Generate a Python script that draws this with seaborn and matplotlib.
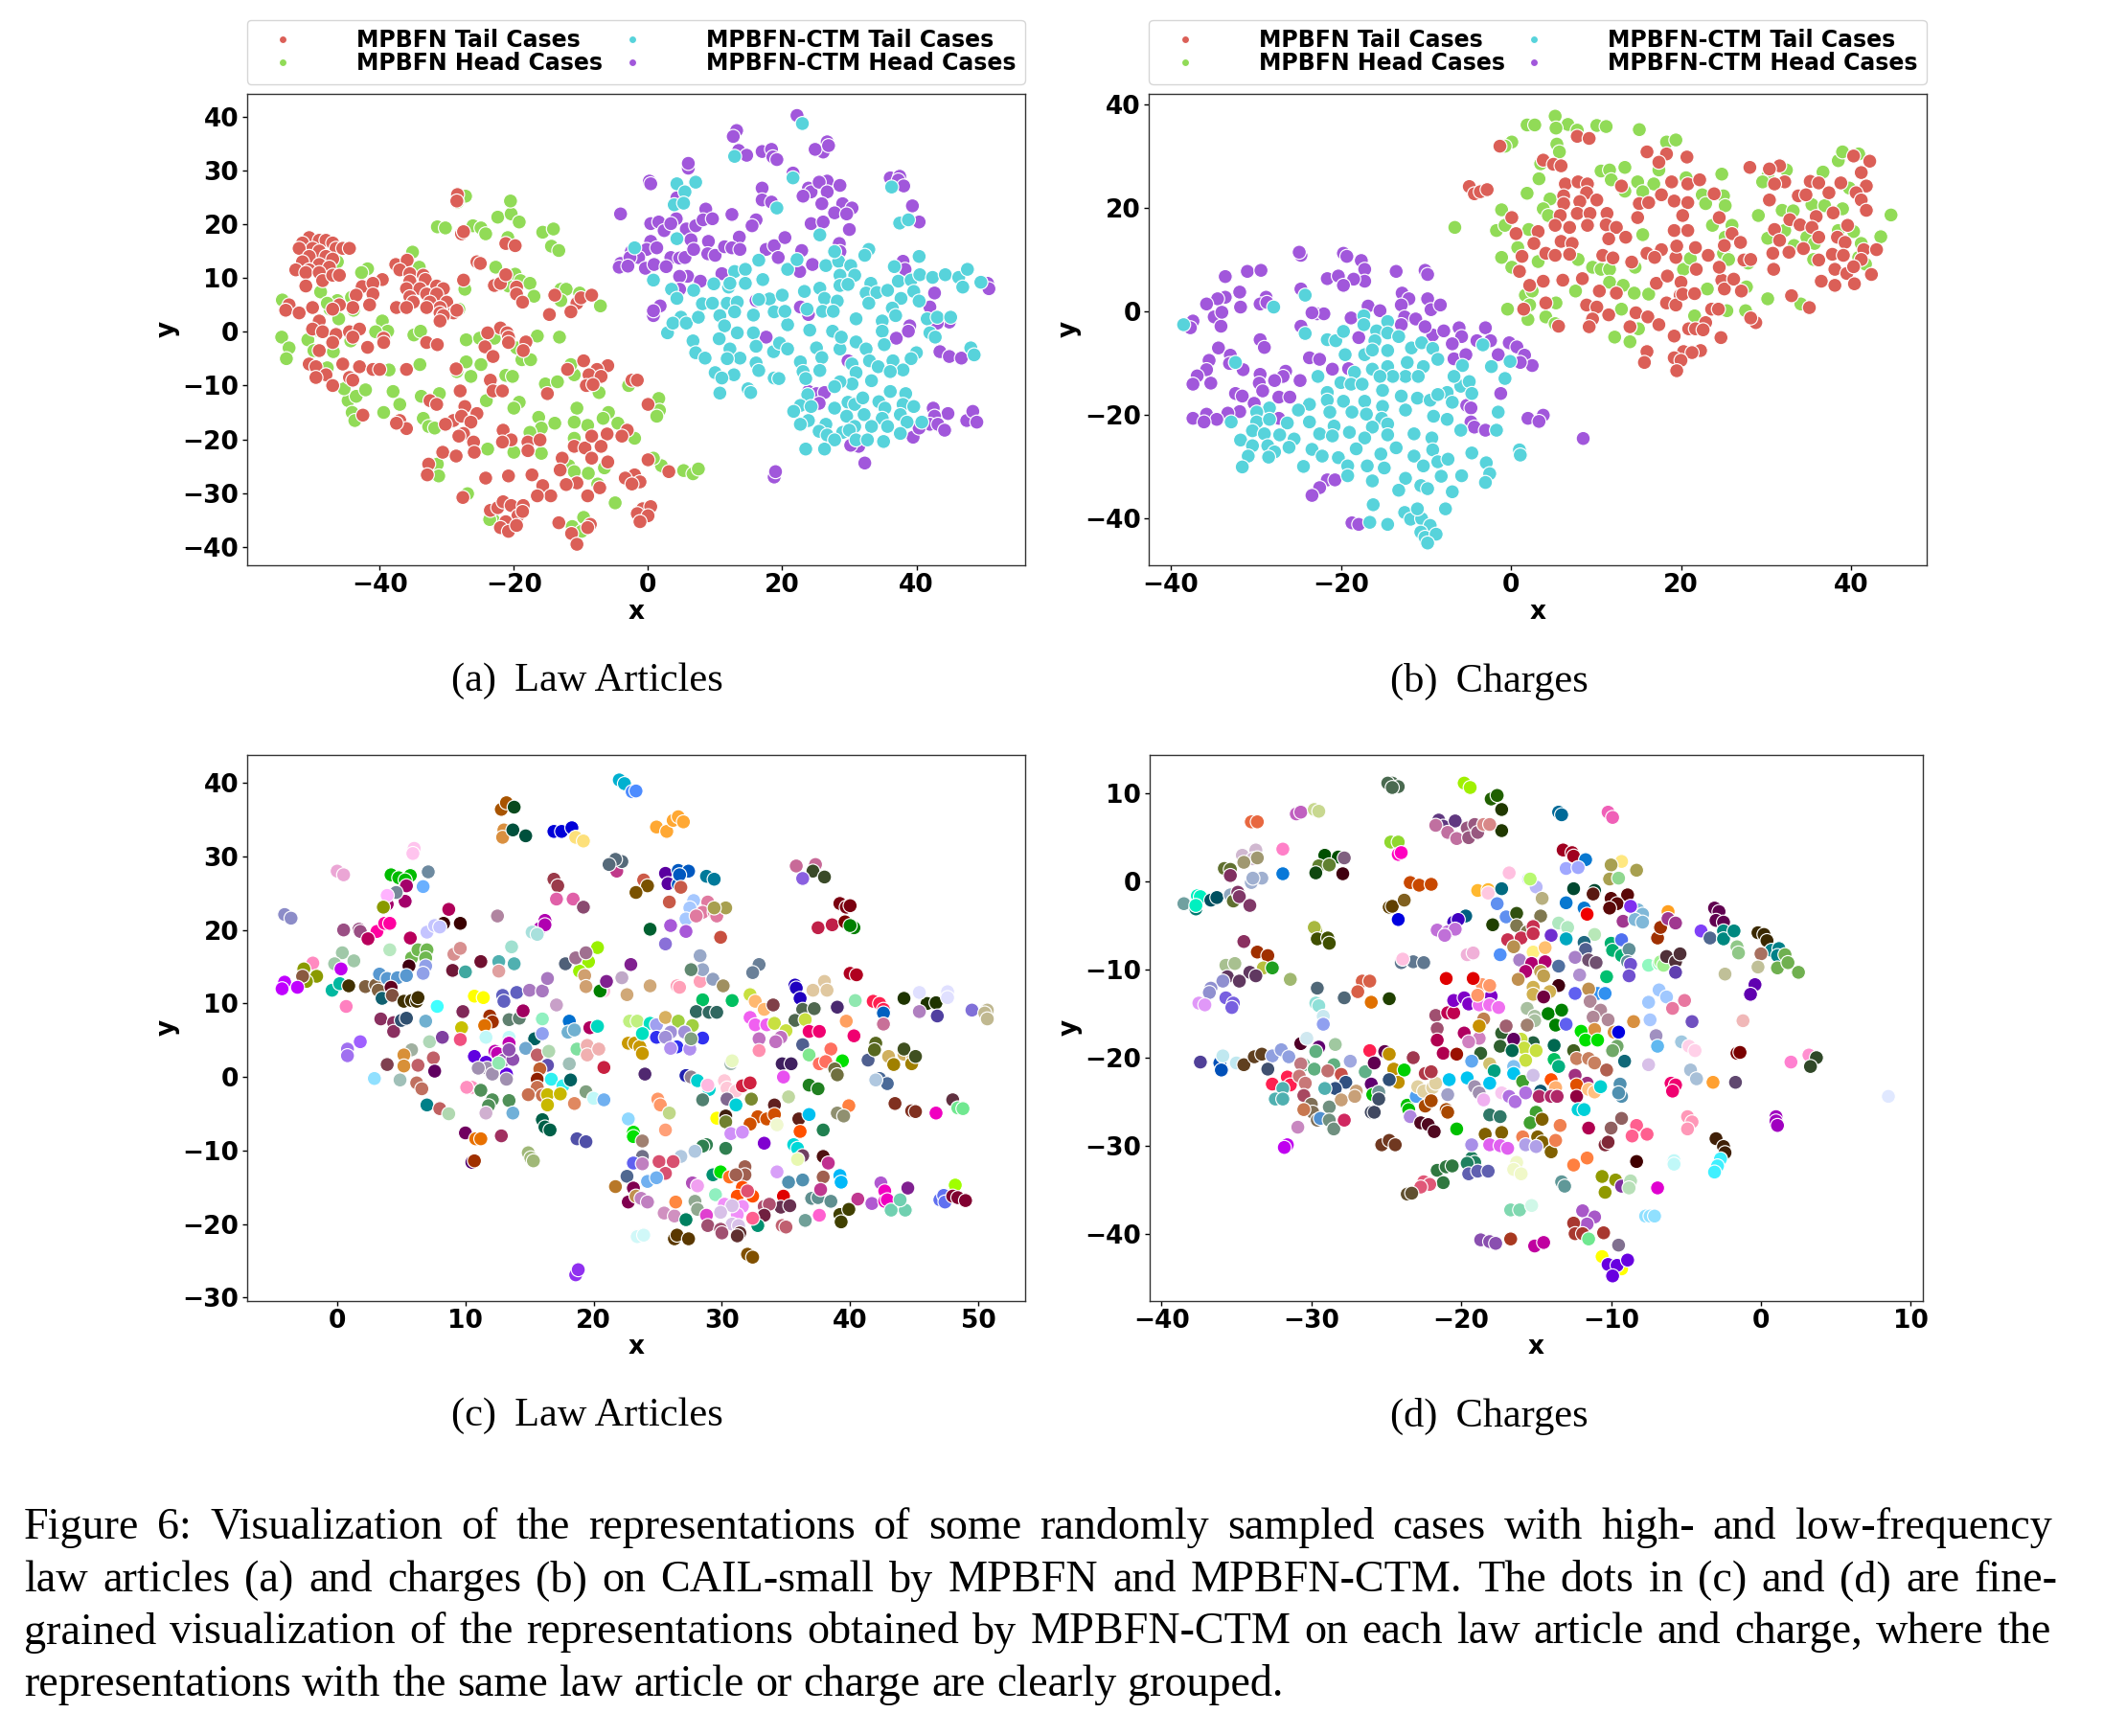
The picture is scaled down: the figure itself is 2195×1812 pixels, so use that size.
import numpy as np
import pandas as pd
import matplotlib
matplotlib.use("Agg")
import matplotlib.pyplot as plt
import seaborn as sns

sns.set_style("white")
plt.rcParams['font.family'] = ['DejaVu Sans']
plt.rcParams.update({"text.color": "black", "axes.labelcolor": "black",
                     "xtick.color": "black", "ytick.color": "black"})

LABELS = ["MPBFN Tail Cases", "MPBFN Head Cases", "MPBFN-CTM Tail Cases", "MPBFN-CTM Head Cases"]

a_tail = [(-50.5,17.5),(-51.5,16.5),(-49,17),(-48,17),(-47,16.5),(-50,15.5),(-52,15.5),(-49,15),(-46.5,15.5),(-45.5,15.5),(-44.5,15.5),(-50.5,14),(-48,14),(-47,13.5),(-51.5,13),(-49,12.5),(-47.5,12),(-50.5,11.5),(-52.5,11.5),(-51,11),(-49,11),(-48.5,9.5),(-47,10.5),(-46,10.5),(-51,8.5),
(-37.6,12.5),(-35.9,13.3),(-37,11.5),(-35.5,10.8),(-33.5,10.5),(-33.2,9.7),(-35.5,9.4),(-39.6,9.7),(-42.6,8.4),(-41,9),(-43.5,6.8),(-36,8),(-34,8),(-31.5,8.5),(-30.5,8),(-33,7),(-31.5,7),(-35.5,6.5),(-35,5.5),(-32.5,5.5),(-30,5.5),(-31,4.5),(-37.5,4.5),(-36,4.5),(-33,4.5),(-31,3.5),(-29,3.5),(-30.5,3),(-28.5,4),(-31,2),(-41,7),(-41.5,5),(-44,4.5),(-46,5),(-47,4.2),
(-50,4.5),(-53.5,5),(-54,4),(-52,3.5),(-49,2),(-50,0.5),(-48.5,0),(-46.5,-0.5),(-44.5,0),(-43,0.5),(-44,-1),(-47,-2),(-49,-3.5),(-50.5,-6),(-49.5,-6.5),(-48,-8),(-45.5,-6),(-43,-6.5),(-44.5,-8.5),(-41,-7),(-40,-7),(-36,-7),(-49.5,-8.5),(-47,-10),(-44,-9),(-42.5,-15.5),(-37,-16.5),(-36,-18),(-37.5,-17),(-33,-2),(-31.4,-2.4),(-39.4,-1.2),(-39.4,-2),(-41.8,-2.9),
(-28.4,25.5),(-28.5,24.3),(-27.8,18.2),(-27.5,18.6),(-21.2,16.4),(-19.8,16),(-25.5,13),(-25,12.7),(-27.5,9.6),(-22.9,8.6),(-22,9),(-21.2,10.6),(-19.6,8.3),(-19.6,7),(-18.7,5.5),(-13.9,6.8),(-10.6,5.3),(-10,6.3),(-8.4,6.8),(-14.7,3.2),(-11.5,3.7),
(-22,0.7),(-23.9,-0.2),(-21,-0.2),(-20.8,-1),(-24.3,-2.8),(-20.8,-2),(-18.2,-1.9),(-18.6,-3.5),(-23.1,-4.6),(-28.6,-6.9),(-23.5,-9),(-28,-11),(-23.1,-11),(-21.7,-11),(-15,-11.5),(-32.5,-12.8),(-31.5,-13.5),(-36,-7),
(-9.6,-5.4),(-6,-6.3),(-7.6,-7),(-12,-7),(-8.8,-8),(-7,-8.3),(-9.2,-10),(-8.2,-9.8),(-2.4,-9),(-1.6,-9),(0,-13.5),
(-27.3,-13.9),(-29,-16.5),(-30.2,-17.2),(-27.8,-15.7),(-25.5,-15.2),(-26.4,-16.8),(-27.5,-18.9),(-28.2,-19.4),(-26,-20.5),(-30.6,-22.4),(-28.6,-23.1),(-25.9,-22.4),(-32.7,-24.6),(-32.9,-26.6),(-21.6,-18.3),(-20.4,-20.1),(-21.7,-20.5),(-17.9,-20.5),(-17.9,-22.1),(-16.1,-20.1),(-11,-21.3),(-9.4,-21.6),(-8.4,-19.4),(-6.1,-19),(-7,-21.3),(-3.1,-18.3),(-3.9,-19.4),(-8.4,-23.5),(-12.8,-23.5),(-13.1,-25.7),(0,-23.8),(3.1,-26),(-6,-24.2),(-2,-26.6),(-3.4,-27.2),(-1.2,-27.9),(-2.4,-28.3),(-10.6,-28.1),(-12.2,-28.4),(-15.7,-28.6),(-14.5,-30.5),(-16.5,-30.5),(-9,-30.5),(-7.2,-29),(-17.3,-26.6),(-20.8,-26.8),(-24.2,-27.2),(-27.6,-30.8),
(-23.5,-33.2),(-22.4,-32.7),(-21.6,-31.6),(-20.4,-32.3),(-18.6,-32.3),(-19.4,-34.2),(-18.7,-33.4),(-21.2,-35.3),(-22,-36.4),(-20.8,-37.1),(-19.6,-36),
(-0.8,-32.9),(0.4,-32.5),(-1.6,-33.8),(0,-34.2),(-1.2,-35.3),(-13.3,-35.5),(-8.6,-35.8),(-9,-36.4),(-11.4,-37.5),(-10.6,-39.5)]

a_head = [(-54.5,5.9),(-54.6,-1),(-53.5,-3),(-53.9,-5),(-50.7,-1.5),(-49.4,0.3),(-49.8,-3.5),(-48.8,12.5),(-47.3,11.4),(-46.3,13),(-48.8,7.4),(-46.3,5.8),(-44.2,6.4),(-47.4,4.2),(-43.9,4),(-46.1,2.4),(-47.8,5.3),(-44.3,-1.7),(-46.9,-3.7),(-47.8,-6.7),(-44.7,-12.8),(-43.5,-12),(-42.1,-10.8),(-45.3,-10.6),(-44.1,-15),(-43.7,-16.5),(-41.8,11.7),(-42.7,11),(-39.6,2),(-38.8,0.1),(-40.6,0),(-38.6,-7.1),(-38,-11.1),(-37,-13.5),(-39.4,-15),(-34.9,-0.6),(-33.9,0.1),(-34,-6.1),(-33.8,-12),(-31.1,-11.5),(-33.5,-16.1),(-32.7,-17.6),(-31.8,-17.9),(-31.4,-24.6),(-31.2,-26.8),(-35.1,14.8),(-34.1,12),(-31.4,19.5),(-30.2,19.3),(-26.1,19.7),(-24.9,19.3),(-24.2,18.2),(-22.4,21.3),(-20.4,21.9),(-19.2,20.4),(-20.5,24.3),(-27.2,25.2),(-28.4,24.1),(-15.7,18.5),(-14.1,19.1),(-14.4,15.9),(-13.3,15.1),(-20.9,17.5),(-22.7,12),(-19.8,10.7),(-19,9.5),(-17.6,9),(-20.8,8.5),(-27.3,7.9),(-28.2,4.2),(-17,6.6),(-13,7.9),(-12.2,7.9),(-13,5.8),(-10.2,7.2),(-7.1,4.8),
(-27.1,-1.5),(-25.1,-1.2),(-22.9,-1.2),(-19.6,-3),(-16.5,-0.8),(-13.2,-1),(-18.8,-5.2),(-17.5,-5.2),(-27.1,-5.6),(-24.9,-6.1),(-28.5,-7.4),(-26.4,-8.3),(-21.2,-8.1),(-20.2,-8.3),(-15.3,-9.7),(-13.5,-9.3),(-11,-8),(-11.5,-6.1),(-7.3,-11.3),(-2.9,-10),(-24.1,-12.8),(-19.2,-13.1),(-20,-14.2),(-10.6,-14.2),(-16.3,-15.9),(1.6,-12.4),(1.7,-14.6),(1.3,-15.7),(-5.9,-15),(-6.7,-16.1),(-4.5,-17),(-9,-17.4),(-11,-16.8),(-13.9,-17),(-15.9,-17.9),(-17.6,-18.7),(-11,-19.8),(-2,-19.8),(-20,-22.4),(-15.9,-22.6),(-23.9,-21.8),(-11.8,-24.9),(-11,-26),(-8.9,-26.3),(-6.5,-25.3),(2,-24.9),(5.3,-25.8),(6.7,-26.4),(7.5,-25.5),(0.8,-23.5),(-7.5,-28.3),(-4.9,-31.8),(-26.9,-30.1),(-23.1,-34.9),(-23.6,-34.9),(-9.6,-34.5),(-11.3,-36.2),(-9.9,-37.1)]

a_ctm_head = [(-4.1,21.9),(0.2,28),(0.4,27.5),(6,30.4),(6,31.3),(13.2,37.4),(12.7,36.3),(13.5,33.7),(14.7,32.8),(17,33.5),(18.4,33.9),(18.6,32.5),(19.2,32),(22.2,40.2),(26.7,35.3),(26.1,33.4),(24.9,33.9),(26.9,34.6),(21.6,29.5),(17,26.7),(23.9,26.7),(24.3,26),(26.7,28),(25.5,27.8),(28.6,27.2),(26.7,26),(23.1,25.2),(25.9,23.8),(29,23.8),(30.4,23),(27.8,22.1),(29.6,21.9),(24.3,20.1),(26.1,20.4),(30,19),(36.1,28.6),(37.5,28.9),(37.3,28.2),(38.1,27.1),(39.4,23.4),(40.4,20.4),(28.5,16.4),(28.6,14.9),(17,24.5),(18.4,24.1),(8.6,22.8),(12.5,21.8),(16.1,20.8),(15.5,19.7),(4.3,24.9),(4.2,21),(0.4,20.1),(1.6,20.4),(2.4,18.8),(3.4,20.1),(5.7,19.1),(7.1,19.7),(8.2,20.8),(9.6,21),(0.4,16.8),(-0.2,15.3),(1.3,15.6),(-2.5,14.9),(-1.4,13.8),(-4.1,12.7),(-2.7,13.8),(-4.3,12),(-3,12.2),(-0.4,11.8),(0.9,12.5),(3.4,13.8),(2.7,12.1),(4.7,13.7),(5.5,13.8),(6.4,17.1),(6.8,15.3),(9,16.8),(13.6,17.6),(8.9,14.5),(10,14.2),(11.4,15.8),(12.5,15.6),(13.7,15.3),(5.9,10.3),(4.7,10.3),(7.8,9.4),(11,10.8),(17.6,15.3),(18.8,16),(20.4,17.5),(19.4,13.8),(22.9,15.1),(22.6,11.2),(24.5,12.5),(4.7,7.9),(1.8,4.8),(0.8,3),(0.8,3.9),(16.1,5.8),(22.7,4.6),(23.9,3.2),(38,13.1),(38.3,11.6),(42.7,7.2),(50.6,9),(50.8,8),(42,4.6),(44.9,1.8),(43.1,1.6),(39,1.1),(37,-1.2),(38.8,0.1),(17.6,-1),(43.5,-3.7),(44.9,-4.6),(46.7,-4.9),(29.8,-5.4),(23.9,-11.1),(25.1,-11.5),(26.3,-11.3),(25.5,-13.3),(42.5,-14.2),(44.7,-15.2),(42.7,-15.7),(47.5,-16.5),(48.4,-14.8),(49,-16.8),(42,-17.2),(43.2,-17.2),(44.2,-18.3),(39.5,-19.6),(40.4,-17.9),(31.4,-21.3),(30.2,-21.1),(32.3,-24.4),(18.8,-27),(19,-26)]

a_ctm_tail = [(23,38.7),(12.9,32.6),(21.6,28.6),(4.3,27.5),(7.1,27.8),(5.5,26),(3.9,23.6),(5.3,23.9),(19.2,23),(36.3,26.9),(37.5,20.2),(38.8,20.8),(25.6,18),(4.3,17.3),(-2,15.6),(16.5,13.3),(20.8,11.6),(22.2,13.4),(26.5,12.3),(28.4,13.1),(27.8,14.9),(32.9,15.3),(30.2,12.3),(32.3,14.2),(40.4,14),(36.7,12.1),(0.8,9.6),(3.5,7.9),(4.3,6.2),(12.9,11.2),(14.5,11.6),(9.8,8.9),(12,8.3),(14.5,9),(17.1,9.7),(12.2,9),(6.8,7.7),(28.6,10.5),(30.8,10.5),(28.6,8.6),(29.8,8.8),(25.6,8.1),(23.3,7.5),(26.3,6.2),(28.2,5.7),(23.7,4.2),(26,3.8),(27.6,3.8),(33.2,9),(32.5,7.2),(34.1,7.3),(35.7,7.7),(37.3,9.4),(39.2,9.6),(40.5,10.6),(42.4,10.1),(39.6,7.5),(37.7,6.2),(40.4,5.7),(32.9,5.3),(36.4,4.4),(34.9,2),(36.9,3),(44.3,10.6),(46.3,10.1),(47.6,11.6),(46.9,8.3),(49.6,9.2),(41.6,2.4),(43.1,2.7),(45.1,2.7),(42,-0.2),(42.8,-1),(48.1,-3),(48.6,-4.3),(40,-3.9),(39.2,-5),(31,2.4),(34.9,0.1),(24.1,0.3),(27.5,0.1),(25.1,-3),(25.9,-4.8),(22.7,-5.6),(23.1,-7.4),(25.6,-7.2),(23.5,-8.7),(28.6,-3.2),(28.8,-1),(31,-1.9),(32.5,-3.2),(35.2,-2.4),(30.4,-6),(33,-5.4),(34.3,-6.5),(36.5,-5.4),(38,-7.1),(36.1,-7.4),(31,-7.6),(33.3,-9.1),(30.4,-9.7),(28.6,-9.3),(27.8,-10.2),(36.1,-11.1),(38.4,-11.5),
(23.8,-11.7),(22.7,-13.7),(21.7,-14.8),(24.3,-13.9),(23.9,-16.5),(22.7,-17.2),(27.8,-14.2),(29.8,-13.1),(30.8,-13.5),(32,-12.3),(34.4,-13),(35.3,-14.2),(38,-13.5),(39.6,-13.9),(29.6,-15.7),(32.2,-15.4),(34.9,-16.1),(37.6,-15.4),(26.5,-17.2),(29,-18.7),(30.8,-17.6),(33.3,-17.6),(35.7,-17.6),(38.6,-16.8),(40.8,-16.8),(25.5,-18.5),(26.7,-19.2),(30,-18.3),(27.8,-20.1),(31,-20.1),(32.7,-20.1),(35.1,-20.4),(37.6,-18.9),(23.5,-21.8),(26.3,-21.8),
(2.9,-0.2),(4.9,2.7),(3.7,1.6),(5.7,1.6),(7.5,2.7),(6.7,-1.7),(7.1,-3.9),(8.5,-4.9),(8.1,5.2),(9.6,5.3),(11.8,5.3),(13.3,5.5),(10.7,3),(12.9,3.7),(15.7,3.1),(11.4,1.1),(13.3,-0.2),(15.7,-0.2),(18.1,6.1),(20,6.8),(18.8,3.7),(20.8,1.3),(20.4,3.8),(16.5,6),(10.6,-1.3),(12.2,-3.2),(13.7,-4.9),(16.1,-2.7),(18.7,-3.7),(19.6,-2.1),(20.8,-3.2),(16.1,-5.8),(16.5,-7.2),(11.8,-5),(10,-7.6),(12.8,-8),(11,-8.6),(18.8,-8.6),(19.5,-8.7),(14.9,-10.6),(15.3,-11.3),(10.7,-11.4)]

b_tail = [(-4.9,24.2),(-4.3,22.8),(-3.6,23.2),(-2.8,23.6),(-1.3,32),(7.8,33.9),(9.2,33.5),(3.8,29.3),(5,28.5),(5.9,28.2),(6.4,24.7),(7.9,25.1),(9,24.7),(8.9,23),(6.2,22.4),(6.2,20.9),(8.1,21.3),(10.1,21.6),(5.8,18.6),(7.8,19),(9.3,19),(11.3,19),(9,16.7),(11.2,16.8),(6.9,16.3),(5.2,16.7),(0.1,18.2),(0.6,15.1),(3.2,15.5),(2.7,13.2),(5.9,13.6),(7.2,13.2),(12.4,16.3),(11.5,14.1),(13.5,14.4),(4.1,11.3),(5.2,10.9),(6.9,11.1),(1.3,10.7),(1,7.8),(10.8,10.9),(12,10.4),(14.2,9.6),(16,11.3),(17.7,12),(16.9,10.5),(19.4,10.5),(19.5,12.7),(21.7,12.4),(23.2,10.9),(21.8,8.2),(3.8,5.9),(2.2,5.1),(6.1,6.1),(8.4,6.4),(10.4,4),(12.4,3.6),(4.1,1.7),(1.5,0.5),(8.9,1.3),(10.1,0.9),(9.6,-1.4),(9.2,-2.9),(5.6,-2.8),(11.5,-0.6),(14.7,-0.2),(16.1,-1),(17.4,-2.5),(14,-2.9),(17.1,5.5),(18.4,6.9),(20,5.7),(19.9,3.2),(18.3,1.7),(19.4,1.3),(20.2,3.4),(21.6,3.5),(23.6,0.5),(24.4,0.5),(22.9,-2.1),(24.8,6.1),(25.1,4.4),(26.2,6.3),(27.1,4),(24.5,8.6),(26,15.1),(27,13.4),(25.1,12.8),(27.4,10),(28.2,10.1),
(16,30.9),(18.3,30.5),(17.4,28.9),(20.7,29.9),(28.1,27.9),(13,24.3),(17.7,22.6),(18.9,25.1),(20.8,24.7),(22.2,25.5),(15.1,20.9),(16.2,21.1),(19.2,21.4),(20.8,21.1),(14.9,18.2),(20.2,18.6),(19.2,15.7),(20.8,15.7),(24.5,18.2),(23.9,22.8),
(31.6,28.2),(30.4,27.6),(32.2,25.1),(31,24.7),(35.2,25.2),(36.2,24.9),(38.8,24.9),(40.3,30.1),(42.2,29.1),(41.2,26.9),(41.8,24.3),(40.6,23),(41.2,21.6),(33.8,22.4),(34.7,22.6),(37.4,23),(30.4,21.6),(32.8,17.8),(35.9,18.4),(37.9,19.1),(41.8,19.6),(39.6,16.7),(31,15.9),(34,16.8),(35.4,16.3),(31.6,13.8),(36.2,14.4),(38.4,14.4),(39.3,13.4),(41.5,12),(43,12),(30.8,11.3),(30.9,8.2),(32.7,11.5),(34.4,12.2),(36.2,10),(37.8,11.1),(39.1,10.9),(41.2,10.1),(38.1,8.2),(39.5,7.4),(40.3,8.7),(42.4,7.2),(36.5,5.9),(38.1,5.1),(40.4,5.4),(33,3.1),(35.1,0.8),
(19.2,-4.7),(20.9,-3.3),(21.7,-3.3),(22.6,-3.5),(24.7,-5),(22.3,-7.5),(20.3,-7.7),(21.3,-7.9),(19.2,-8.9),(20,-9.4),(16,-7.7),(15.7,-9.8),(19.5,-11.4),(28.8,-2.1),(28.2,-1.2)]

b_head = [(5.2,37.8),(6.7,36.2),(5.3,35.5),(1.9,36.1),(2.8,36.1),(7.8,35.1),(10.1,36),(11.2,35.8),(15.1,35.2),(5.4,32.4),(5.7,30.9),(18.3,32.8),(19.4,33.2),(0.1,32.8),(-0.7,32),(3.5,28.6),(3.3,25.7),(1.9,22.9),(4.6,21.8),(3.8,19.9),(4.4,18.6),(-1.1,19.7),(-6.6,16.3),(-1.7,15.7),(-0.7,16.7),(2.1,15.9),(0.8,12.4),(-1.1,10.5),(0.1,8.6),(3.2,9.7),(-0.4,0.5),(1.7,3.2),(2.5,4),(2.2,1.3),(5.3,1.7),(4.1,-1),(2,-1.5),(5.2,-2.3),(7.9,10.1),(9.6,8.6),(10.6,8.2),(11.6,8.2),(11.6,5.7),(14.6,8.6),(13.2,5.1),(14.5,3.6),(16.2,3.4),(7.6,4),(13,0.5),(15,-3.3),(14,-2.9),(12.2,-4.9),(14,-5.8),(10.6,27.2),(11.6,27.4),(13.4,27.9),(11.8,25.5),(13.4,23.3),(14.9,25.1),(16.8,24.7),(17.4,27.4),(24.8,26.6),(20.6,25.9),(15.5,23.2),(22.5,22.6),(22.9,20.9),(25,22.4),(25.2,20.5),(23.7,16.7),(26,16.7),(25.2,14.4),(25,11.3),(25.6,10.1),(15.5,14.9),(20.3,8.2),(21.1,10.3),(23.1,4.4),(27.9,9.4),(27.7,4.8),(25.4,0.2),(27.6,0.2),(21.6,-0.8),(30.2,2.5),(34.1,1.5),(29.1,18.6),(30.2,26.2),(29.6,25.1),(32.4,27.4),(36.7,27),(38.5,29.2),(39,30.9),(40.9,30.5),(31.9,19.6),(35.4,20.7),(36.9,20.5),(39,19.9),(33.2,19.5),(44.7,18.7),(43.5,14.5),(30.2,14.2),(32.2,15.7),(34.8,14.4),(33.3,12.8),(35.7,13.2),(38.5,15.7),(40.3,15.5),(41.2,13.2),(35.6,10.1),(40.9,10.5),(41.7,9.2),(39.8,23.9)]

b_ctm_head = [(-24.7,10.9),(-24.9,11.5),(-19.7,11.3),(-19.3,10.7),(-17.6,9.9),(-17.2,8.2),(-17.2,5.9),(-13.5,7.8),(-10.1,8),(-9.8,7.2),(-33.6,6.8),(-31,7.8),(-29.4,8),(-21.6,6.4),(-20.3,6.9),(-18.5,6.3),(-19.7,5.1),(-24.7,4.4),(-31.9,3.8),(-33.6,2.8),(-34.5,2.5),(-28.8,2.8),(-29.5,1.5),(-28.7,1.8),(-35.8,1.5),(-31.8,0.9),(-34.9,-1),(-37.4,-1.8),(-37.7,-3.1),(-34.1,-2.8),(-34,-0.1),(-12.8,3.6),(-12,2.5),(-9.8,2.5),(-12.9,1.3),(-9.4,0.4),(-8.3,1.3),(-16.8,1.1),(-15.4,0.2),(-18.8,-1.2),(-22.8,-0.4),(-22,-0.4),(-23.4,-0.2),(-24.7,-2.8),(-12.5,-1),(-11.2,-1.4),(-12.9,-2.5),(-9.2,-4.5),(-7.9,-3.7),(-6.1,-3.1),(-5.8,-4.8),(-10.1,-2.9),(-17.9,-5),(-6.9,-6.2),(-3,-3.1),(-4,-5.6),(-2.4,-5.6),(-0.2,-6),(0.7,-6.8),(-1.5,-8.3),(1.6,-8.4),(2.5,-10.4),(1.1,-9.8),(-6.7,-9.1),(-5.3,-8.3),(-29.5,-5.4),(-29,-6.9),(-34.4,-7),(-33,-8.4),(-35.5,-9.4),(-33.1,-10),(-35.8,-11.2),(-36.9,-12.4),(-31.5,-11.2),(-35.3,-13.8),(-37.4,-14),(-23.7,-8.9),(-22.5,-9.2),(-21,-11.1),(-19.1,-11),(-26.5,-11.5),(-26.8,-12.5),(-27.8,-13.3),(-24.8,-13.3),(-29.5,-12.1),(-29.6,-13.8),(-29.2,-15.3),(-32.4,-15.8),(-31.6,-16.3),(-27.3,-16.5),(-26,-16.5),(-30.2,-17.7),(-31.9,-19.3),(-33.3,-19.6),(-35.8,-19.8),(-37.4,-20.6),(-34.6,-20.8),(-36.1,-21.3),(-27.3,-20.6),(-1.2,-15.8),(-5.2,-18.1),(-4.7,-18.6),(-4.7,-21.3),(-4.3,-22.3),(-3,-22.9),(2,-20.6),(3.8,-20),(3.3,-21.2),(8.5,-24.5),(-21.6,-32.5),(-20.7,-32.5),(-22.5,-34),(-23.4,-35.5),(-18.7,-40.8),(-17.9,-41.1)]

b_ctm_tail = [(-38.5,-2.5),(-27.9,0.9),(-24.2,3.2),(-17.3,-0.8),(-14.5,-1.9),(-24.2,-4.2),(-21.6,-5.4),(-20.6,-5.6),(-19.7,-3.8),(-17.3,-2.5),(-15.8,-3.7),(-14.5,-4.1),(-13.2,-4.8),(-16,-5.6),(-17.2,-8.3),(-16.3,-7.4),(-14.5,-7.5),(-11.7,-7),(-10.5,-6),(-9.2,-7.1),(-8.6,-9.2),(-3.3,-6.4),(-0.1,-9.6),(-2.3,-10.6),(-0.7,-12.9),(-5.7,-10.4),(-32.4,-9.8),(-19.5,-8.3),(-14.5,-10.6),(-16.3,-11.1),(-10.3,-10.6),(-12.2,-9.8),(-12.4,-12.5),(-10.9,-12.5),(-13.9,-12.5),(-15.4,-12.5),(-18.4,-11.7),(-22.7,-12.5),(-20,-13.7),(-18.8,-14),(-17.5,-14),(-15.1,-15.2),(-12.9,-16.3),(-11,-16.7),(-9.5,-17.1),(-7.5,-15.6),(-5.9,-14.4),(-4.9,-13.5),(-4.6,-15.8),(-6.7,-12.5),(-8.6,-16),(-21.6,-15.6),(-21.6,-17.1),(-19.7,-17.3),(-17.2,-17.3),(-15.1,-18.3),(-6.9,-17.5),(-23.7,-17.9),(-21.3,-19.4),(-18.7,-19.4),(-17,-19.8),(-15.2,-20.6),(-12.4,-19),(-9.1,-20.2),(-7.5,-20.8),(-1.5,-19.4),(-5.9,-22.9),(-1.7,-22.9),(-28.4,-18.6),(-29.9,-19.4),(-32.9,-21.3),(-29.9,-21.3),(-28.4,-20.8),(-26.3,-21.5),(-25,-19),(-23.7,-21.3),(-22.5,-23.6),(-20.8,-22.1),(-19,-23.3),(-16.3,-22.3),(-14.5,-21.7),(-11.4,-23.6),(-31.8,-24.8),(-30.4,-23),(-29,-23.6),(-27.2,-23.8),(-25.5,-24.6),(-21,-24),(-14.5,-23.8),(-17.2,-24.4),(-9.3,-24.4),(-30.4,-25.9),(-28.6,-25.9),(-26.1,-26.2),(-23.4,-26.6),(-18.2,-26.5),(-27.8,-27.1),(-30.9,-27.9),(-28.5,-28.1),(-22.2,-27.9),(-20.3,-28.2),(-15.3,-27.5),(-11.4,-27.9),(-13.5,-26.3),(-9.2,-26.7),(-4.6,-27.3),(1,-26.7),(1.1,-27.7),(-8.6,-29),(-7.4,-28.5),(-10.3,-29.8),(-2.9,-29.2),(-31.6,-30),(-24.4,-29.9),(-19.2,-29.8),(-16.9,-29.8),(-14.9,-30.2),(-16.3,-32.7),(-19.2,-31.7),(-12.4,-32.2),(-8.2,-31.8),(-5.8,-31.7),(-2.5,-31.3),(-3,-33),(-10.6,-33.6),(-9.8,-34.2),(-13.2,-34.5),(-6.9,-34.8),(-16.2,-37.3),(-7.7,-38.1),(-12.5,-38.8),(-11.8,-40.1),(-10.5,-40),(-11,-38.1),(-16.6,-40.7),(-14.5,-41.1),(-9.5,-41.3),(-10.6,-42.6),(-10.1,-43.6),(-8.8,-43),(-9.8,-44.7)]

# panel (c): points of each law article and the colour of that article
c_groups = [
([(22,40.4),(22.4,39.9)],'#00b0d0'),([(23,38.8),(23.3,38.9)],'#4d8cff'),([(12.8,36.4),(13.2,37.3)],'#a85400'),([(13.8,36.7)],'#0a4a1e'),([(13,33.6),(12.9,32.6)],'#d98f3f'),([(13.7,33.6),(14.7,32.8)],'#00503c'),([(16.9,33.4),(17.5,33.4),(18.3,33.9)],'#0000d8'),([(18.6,32.6),(19.2,32.1)],'#fde07a'),([(24.9,34),(25.7,33.4),(26.2,34.9),(26.6,35.4),(27,34.7)],'#ffa833'),([(6,31.1),(5.9,30.4)],'#ffc4ee'),([(0,28),(0.5,27.5)],'#eba6d5'),([(4.2,27.5),(4.8,27.1),(5.7,27.4),(5.3,26.8)],'#00bc00'),([(7.1,27.9)],'#6d8aa0'),([(6.7,25.9)],'#6ab0ff'),([(5.4,26),(5.3,23.9),(3.9,23.5)],'#a3006a'),([(4.6,25.1)],'#76889a'),([(3.9,24.7)],'#ffb3ff'),([(3.6,23.1)],'#8a9a00'),([(8.7,22.8)],'#b0005a'),([(8.3,20.9),(9.6,20.9)],'#3a0000'),([(-4.1,22.1),(-3.6,21.6)],'#8c8cc8'),([(0.5,20),(1.7,20.1),(1.8,19.8)],'#9a4f84'),([(3.1,19.8),(3.7,20.9),(4.1,20.9)],'#ff00a0'),([(2.4,18.8),(5.7,18.9)],'#b8005c'),([(7,19.7),(7.6,20.6),(8,20.4)],'#c4c4ff'),([(12.5,21.9)],'#b084a0'),([(16.2,21.3),(15.8,20.2),(16.2,20.7)],'#b000b0'),([(15.2,19.7),(15.6,19.4)],'#a8e0dc'),([(16.9,26.9),(17.2,26)],'#9a3a4a'),([(17.1,24.2),(18.4,24.2)],'#e060a8'),([(19.2,23.1)],'#8a4a70'),([(21.5,28.8),(21.8,28)],'#c03a8a'),([(22.2,29.3),(21.7,29.6),(21.2,28.9)],'#566a7a'),([(23.9,26.8)],'#cc5a48'),([(24.2,26),(23.3,25.1)],'#7a5200'),([(25.6,27.7),(25.8,26.3)],'#5a00a0'),([(26.6,28.1),(27.4,28),(26.6,26.2),(26.7,27.5)],'#0058c0'),([(26.8,25.8),(25.9,23.8)],'#c85a48'),([(28.8,27.3),(29.4,26.9)],'#007a9a'),([(27.8,24),(27.5,23),(27.2,21.5)],'#a6c8ff'),([(28.9,23.8),(28.5,22.4),(28,21.9),(29.4,22.4),(29.6,21.9)],'#e07aa0'),([(30.3,23),(29.4,23)],'#a8a050'),([(26,20.6),(27.2,19.8)],'#a858d8'),([(24.4,20.1)],'#006030'),([(25.6,18.1)],'#8a70d8'),([(29.9,19)],'#c85040'),([(35.8,28.7),(37.3,28.9)],'#c86a98'),([(37.1,28),(38,27.2)],'#3a4a28'),([(36.3,27)],'#8a60e0'),([(39.2,23.6),(39.7,23.1),(40,23.3)],'#7a0010'),([(37.5,20.3),(38.6,20.7)],'#c02048'),([(39.6,21.1)],'#7a0000'),([(40.3,20.3),(40,20.6)],'#008000'),([(20.3,17.6),(19.6,15.7),(18.9,14.4)],'#9af000'),([(13.6,17.7)],'#a0e0d0'),([(12.6,15.7),(13.8,15.4)],'#50b0b0'),([(12.6,14.4)],'#e0a0a0'),([(11.2,15.7)],'#701030'),([(9.1,16.7),(9.6,17.5)],'#d89090'),([(9,14.5)],'#701838'),([(10,14.3)],'#40a8a0'),([(4.1,17.3)],'#b8e8c0'),([(0.4,16.9),(-0.2,15.4),(1.3,15.8)],'#a0c8a8'),([(5.8,16.2),(6.3,17.3),(7,17.3),(6.9,16.2)],'#70b850'),([(5.6,15.1)],'#400010'),([(6.9,15.1),(6.7,14.1)],'#90a0e8'),([(-1.9,15.5)],'#ff8ac0'),([(0.3,14.7)],'#c000f0'),([(-2.6,14.7),(-1.6,13.7),(-2.4,13)],'#8a9a00'),([(-2.7,13.7)],'#8a5a40'),([(-4.1,12.9),(-4.3,12),(-3.1,12.2)],'#c000ff'),([(-0.4,11.8),(0.2,12.7)],'#00b8a0'),([(0.9,12.4)],'#403000'),([(2.2,12.3),(3,12.5),(3.2,11.8)],'#806040'),([(3.3,14),(3.9,13.4),(4.7,13.5),(5.4,13.8)],'#5898d0'),([(4.2,12.2)],'#600020'),([(3.5,10.7)],'#106070'),([(4.3,11.1)],'#805040'),([(5.2,10.3),(5.8,10.4),(6.2,10.3),(6.3,10.8)],'#403000'),([(0.7,9.6)],'#ff80c0'),([(7.8,9.6)],'#40ffff'),([(9.8,8.9)],'#802858'),([(10.7,11),(11.4,10.8)],'#ffff00'),([(12.9,11.1),(13,10.3),(14,11.5)],'#6060c0'),([(15,11.8),(16,11.7),(16.4,13.4)],'#a878c0'),([(17.8,15.4)],'#506078'),([(18.6,16.2),(19.4,16.9)],'#a07090'),([(19.3,13.8),(19.4,12.3)],'#d0a070'),([(20.8,11.7)],'#ffc0e0'),([(20.5,11.7)],'#008000'),([(17.1,9.8)],'#c8a0c8'),([(21,13),(22.9,15.3)],'#802090'),([(22.2,13.5)],'#c0a8c8'),([(22.6,11.2),(24.4,12.4)],'#d0a878'),([(26.5,12.4),(26.7,12.2),(28.3,13)],'#ffa0b8'),([(28.3,16.5),(28.5,14.6)],'#98a8c8'),([(27.6,14.6)],'#608870'),([(29.3,13.3)],'#90a0c0'),([(30.1,12.4)],'#a09060'),([(32.9,15.3),(32.4,14.2)],'#6a8098'),([(32.2,11.2)],'#c8e040'),([(32.6,10.3),(33.3,9.2)],'#ffb870'),([(34,9.8)],'#804048'),([(28.5,10.5),(30.8,10.4)],'#00c060'),([(28,8.9),(29,8.8),(29.6,8.8)],'#306860'),([(35.7,12.5),(35.8,12.1),(36.1,10.7)],'#2000c0'),([(37.1,11.8),(38,13),(38.2,11.8)],'#e0c8a0'),([(40,14.1),(40.5,13.9)],'#b00020'),([(40.4,10.4)],'#90e8b0'),([(39,9.5)],'#4a2a70'),([(36.3,9.2),(37.2,9.3),(35.7,7.7)],'#506850'),([(36.5,7.8)],'#c8e040'),([(36.8,6.2),(37.6,6.2),(40.3,5.6)],'#f00070'),([(39.7,7.6)],'#ffa060'),([(41.8,10.3),(42.3,10),(42.6,9.2)],'#ff2050'),([(42.6,8.7)],'#0060c0'),([(42.6,7.2)],'#c87098'),([(44.2,10.7),(46,10),(46.7,10.1)],'#1e3400'),([(45.4,11.5),(47.6,11.6),(47.6,10.8)],'#e0e0ff'),([(45.4,8.9)],'#b080c0'),([(46.8,8.3)],'#5040a0'),([(49.5,9.1)],'#8070d8'),([(50.7,9.1),(50.5,8.7),(50.7,7.9)],'#c0b890'),
([(32.2,8.1),(32.6,7.1),(33.5,7.1)],'#f060f0'),([(34.1,7.3),(35,6.3)],'#c8e040'),([(32.9,5.2),(34.6,5.4),(34.2,4.8)],'#c070c0'),([(32.9,3.6)],'#ff90b0'),([(36.3,4.4)],'#506090'),([(36.8,3)],'#80e890'),([(38.5,3.8),(37.6,1.8),(38.1,2.1)],'#ff7060'),([(39.4,2.2)],'#00e000'),([(38.8,1.1),(39,0.3)],'#707040'),([(34.7,1.8),(35.4,1.8)],'#402060'),([(34.8,0)],'#e850f0'),([(36.8,-1.1),(37.5,-1.6)],'#208020'),([(35.2,-2.7)],'#c0d8a0'),([(34.1,-3.8)],'#602020'),([(39.9,-3.9)],'#ff8040'),([(39,-4.9),(39.5,-5.3)],'#909070'),([(41.4,2.3)],'#506090'),([(42,4.6),(41.9,3.7)],'#586820'),([(43,2.8),(44.2,3.1),(44.9,2.5)],'#d0b060'),([(43.4,1.7),(44.8,1.8)],'#a08000'),([(44.2,3.8),(45.1,2.8)],'#405020'),([(42.3,-0.2),(42.9,-0.9)],'#4a6a98'),([(42,-0.4)],'#b0c8e0'),([(43.5,-3.6),(44.8,-4.6),(45.1,-4.7)],'#803020'),([(46.7,-4.9)],'#f000c0'),([(48,-3.1)],'#603040'),([(48.4,-4.2),(48.8,-4.3)],'#70e890'),
([(1.8,4.8)],'#a060ff'),([(0.8,3.8),(0.8,2.9)],'#a070f0'),([(3.4,7.9),(4.4,7.4),(4.4,6.2)],'#8a3060'),([(5,7.7),(5.4,8)],'#305070'),([(6.9,7.6)],'#70b0d0'),([(7.2,4.8)],'#b0d8b8'),([(5.8,3.7)],'#a0b0a0'),([(8.2,5.4)],'#8040a0'),([(9.7,6.7)],'#c8c000'),([(9.6,5.1)],'#f05080'),([(11.9,8.3),(12.1,7.5)],'#a03000'),([(11.5,7)],'#e07000'),([(13.4,7.8),(14.2,8)],'#608070'),([(14.5,9)],'#a00060'),([(16,7.9)],'#90f0c0'),([(18.1,7.6)],'#0070d0'),([(18,6.1),(18.5,6.4)],'#70b0d0'),([(19.7,6.7)],'#b00060'),([(20.3,6.9)],'#00d8c0'),([(11.6,5.4),(13.4,5.4)],'#c0f8f8'),([(15.4,5.2)],'#006060'),([(16,5.9)],'#90a0f0'),([(14.7,3.9)],'#70a8d0'),([(13.4,4.6),(12.3,3.5),(12.5,3.2)],'#c000b0'),([(10.7,2.8),(11.6,2),(13.2,0.4)],'#6000e0'),([(11.7,1.2),(11,1.2),(12.1,0.4),(13.2,-0.3)],'#a090b0'),([(13,2.3),(13.7,2.4),(13.4,3.7)],'#9050b0'),([(12.6,1.9)],'#90e8b0'),([(15.6,3)],'#c06068'),([(16.5,3.5)],'#b0d8b0'),([(16.4,1.6)],'#6050b0'),([(15.8,1.1)],'#c06030'),([(15.6,-0.3)],'#902000'),([(15.6,-1.4),(14.9,-2.4),(16,-2.5)],'#c87050'),([(18.1,1.8)],'#a0c0b8'),([(18.7,3.8)],'#80e0a0'),([(19.5,4.3),(19.5,3),(20.4,3.8)],'#f0b0b0'),([(20.8,1.3)],'#c82040'),([(16.7,-0.3),(17.6,-1.2)],'#30f0f0'),([(18.2,-0.4)],'#006060'),([(10.5,-1.4),(10.1,-1.4)],'#ff90c0'),([(11.2,-1.8),(12.1,-3.1),(11.8,-3.9),(13.4,-3.2)],'#509058'),([(11.6,-4.9)],'#d0b0d0'),([(13.7,-4.9)],'#70b0d8'),([(16.4,-2.4),(16.4,-3.8),(17.4,-2.3)],'#c8b800'),([(18.5,-3.6)],'#e08860'),([(19.4,-2)],'#80a080'),([(20,-2.9)],'#c0f8f8'),([(20.8,-3.1)],'#70b0f0'),([(2.9,-0.2)],'#90e0ff'),([(4.9,-0.4)],'#a0c0b8'),([(3.9,1.7)],'#804050'),([(5.2,3),(5.2,1.5)],'#d89038'),([(6.3,1.6),(7.5,2.6)],'#c06068'),([(7.6,0.8)],'#600060'),([(6.2,-0.8),(6.6,-1.6)],'#c07060'),([(7,-3.8)],'#008088'),([(8,-4.3)],'#c06060'),([(8.7,-5)],'#b0d8b0'),([(10,-7.6)],'#700060'),([(10.8,-8.4),(11.2,-8.4)],'#e87000'),([(12.8,-8)],'#a03060'),([(10.5,-11.6)],'#500070'),([(10.7,-11.4)],'#a03000'),([(14.9,-10.3),(15.1,-11),(15.3,-11.4)],'#a0b878'),([(16,-5.8),(16.2,-6.8),(16.6,-7.2)],'#006048'),([(18.7,-8.4),(19.4,-8.8)],'#5050a8'),
([(22.7,4.6),(23.2,4.6),(23.6,4.1),(23.8,3.2)],'#c89800'),([(23.2,7.6),(22.8,7.6),(23.4,7.6)],'#c0f080'),([(24.4,7.3),(23.8,5.9)],'#00e0c0'),([(24.9,7.1)],'#a0a0f0'),([(25.6,8.1)],'#d8b060'),([(26.6,7.6),(27.7,7)],'#a0d040'),([(24.9,5.4),(26.5,4.1),(28.5,5.3)],'#3030f0'),([(26,6.1),(27.1,6.1),(25.6,5.4)],'#a090d8'),([(26,3.9),(27.5,3.8)],'#b090f0'),([(27.6,5.2)],'#80a080'),([(24,0.4)],'#502870'),([(27.2,0.2)],'#2020b0'),([(27.6,0)],'#908090'),([(28.1,-0.5),(29,-1.7)],'#00d0d0'),([(28.9,-1.1)],'#ffb8e0'),([(30.2,-0.5),(30.4,-1.5),(31.1,-1.9)],'#ffc8d8'),([(30.7,1.8)],'#a0b8b0'),([(30.8,2.2)],'#e8f8c0'),([(31.6,-1.2),(32.2,-0.8)],'#d02040'),([(30.4,-3)],'#806890'),([(31.1,-3.8)],'#00d0d8'),([(28.5,-3.1)],'#508070'),([(32.3,-3)],'#7a8a30'),([(25,-3),(25.2,-3.8)],'#ff9868'),([(25.9,-4.9)],'#c0d888'),([(22.7,-5.7)],'#90d8ff'),([(29.6,-5.6)],'#ffff00'),([(30.3,-5.3)],'#402010'),([(30.3,-6.1)],'#708030'),([(32.8,-5.4),(32.2,-6.4),(33.5,-5.7),(34.1,-5.1)],'#d05000'),([(34.3,-6.5)],'#f0f8d0'),([(30.7,-7.7),(31.6,-7.5)],'#d090f8'),([(36,-5.7)],'#602018'),([(36.8,-5.1)],'#00c0f0'),([(36.1,-7.4)],'#ff5000'),([(37.9,-7.2)],'#208050'),([(25.6,-7.2)],'#ffa078'),([(23.1,-7.5),(23.1,-8.1)],'#00e000'),([(23.8,-8.7)],'#a08070'),([(33.3,-9)],'#8000d0'),([(28.8,-9.2),(28.5,-9.4),(30.3,-9.7)],'#308050'),([(27.9,-10.1),(26.8,-10.8)],'#b0c8e0'),([(23.8,-10.8)],'#707088'),([(23.1,-11.7)],'#6060f0'),([(23.8,-11.8)],'#c080c0'),([(25.1,-11.5),(26.2,-11.5),(25.6,-13.1)],'#d85070'),([(22.6,-13.5)],'#506890'),([(21.7,-14.9)],'#b87828'),([(24.2,-14.2),(24.9,-13.7)],'#70b0f0'),([(23.1,-15.1),(22.7,-17)],'#800050'),([(23.3,-16.2)],'#c09050'),([(23.7,-16.5),(24.2,-17)],'#c080c0'),([(25.5,-18.5),(26.3,-18.9)],'#d090c0'),([(27.2,-19.4)],'#008060'),([(27.7,-14.4)],'#b050b8'),([(28.1,-14.8)],'#f0a0f0'),([(26.4,-17)],'#ff8840'),([(27.9,-16.9),(28.1,-18)],'#90a890'),([(29.5,-16)],'#90f0c0'),([(29.3,-13.3)],'#009070'),([(29.9,-12.9)],'#00e000'),([(30.6,-13.6)],'#ff7020'),([(31.8,-12.2),(31.8,-13.3),(31.1,-13.3)],'#a06050'),([(34.3,-12.9)],'#d8a0f8'),([(35.6,-9.2),(35.9,-9.7)],'#00d8d8'),([(36.3,-10.7)],'#704060'),([(35.9,-11.2)],'#e8f8b0'),([(37.9,-10.8)],'#501010'),([(38.3,-11.7)],'#c03090'),([(35.2,-14.3),(36.3,-14)],'#5090b0'),([(37.9,-13.6)],'#a06050'),([(39.2,-13.4),(39.3,-14.3)],'#00b8f8'),([(31.6,-15),(32.4,-16.2),(31.2,-16.2)],'#ff5000'),([(32,-15.5)],'#e05070'),([(34.8,-16.2)],'#e00000'),([(34.6,-17.7),(35.3,-17.5)],'#683050'),([(33.3,-17.6),(33.7,-17.3)],'#b05070'),([(33.3,-18.8)],'#702040'),([(32.8,-20.2)],'#009070'),([(32.4,-19.2)],'#ff6090'),([(30.2,-17.3),(31.6,-17.6),(31.2,-18.7)],'#f090f8'),([(30.8,-17.5),(30.8,-20),(31.3,-20.2),(29.9,-18.4)],'#d8c0e8'),([(28.8,-18.8)],'#e040d0'),([(28.9,-20.2),(29.9,-20.7),(30,-21.2)],'#a05070'),([(31.4,-21.2),(31.2,-21.6)],'#603030'),([(23.4,-21.7),(23.9,-21.5)],'#d0f8f8'),([(26.3,-22),(26.5,-21.5),(27.4,-22)],'#5a3800'),([(32,-24.1),(32.4,-24.5)],'#805000'),([(18.6,-26.9),(18.8,-26.2)],'#9030f0'),([(36.5,-19.5)],'#70a098'),([(37.6,-18.8)],'#ff60d0'),([(37,-16.5),(37.5,-16.4),(38.5,-16.9)],'#609090'),([(37.7,-15.3),(40.6,-16.6)],'#c03890'),([(39.2,-18.7),(39.3,-19.7),(39.9,-18)],'#404000'),([(41.7,-17.2),(42.4,-14.4)],'#b058d0'),([(42.7,-15.5),(42.7,-16.9),(42.9,-16.7)],'#f000c0'),([(43.2,-18.1),(44.3,-18.1),(43.9,-16.7)],'#70d0b0'),([(44.5,-15.1)],'#802090'),([(47,-16.7),(47.3,-16.1),(47.4,-17)],'#6070f0'),([(48.2,-14.7)],'#a0ff00'),([(48,-16.2),(48.4,-16.4),(49,-16.8)],'#800030'),([(34.7,-20.2),(35,-20.4)],'#c06070'),
]

# panel (d): points of each charge and the colour of that charge
d_groups = [
([(-24.6,11.2),(-24.9,11.2),(-24.2,10.8),(-24.6,10.7)],'#4a6a50'),([(-19.8,11.2),(-19.4,10.7)],'#a0f000'),([(-18,9.4),(-17.6,9.8)],'#206000'),([(-17.3,8.2),(-17.3,5.8)],'#203800'),([(-31,7.7),(-30.7,7.9)],'#c060c0'),([(-29.8,8.2),(-29.5,8)],'#c8d890'),([(-34,6.8),(-33.6,6.8)],'#e86840'),([(-13.5,7.9),(-13.3,7.6)],'#006a98'),([(-10.2,7.9),(-9.9,7.3)],'#f060b8'),([(-21.5,7),(-21.2,6.3),(-20.4,6.9)],'#603880'),([(-21.7,6.4),(-20.9,5.6),(-20.3,4.9)],'#c070a0'),([(-19.6,6.1),(-19.1,6.5),(-19.5,5),(-18.9,5.6)],'#985880'),([(-18.5,6.5),(-18.1,6.5)],'#d88888'),([(-31.9,3.7)],'#ff80c8'),([(-24.7,4.5),(-24.2,4.5)],'#90d830'),([(-24.2,3.1),(-24,3.3)],'#ff00c0'),([(-29.1,3),(-28.2,2.8)],'#005000'),([(-27.8,2.7)],'#806080'),([(-29.5,1.8),(-28.8,1.9)],'#608030'),([(-29.7,1)],'#104810'),([(-27.9,0.9)],'#400010'),([(-31.9,0.9)],'#0878d8'),([(-33.7,3.6),(-34.6,3),(-33.9,2.6)],'#d0b8d0'),([(-33.6,2.7),(-34.5,2.2)],'#a09870'),([(-35.8,1.5),(-35.4,1.4)],'#607030'),([(-35.4,0.7)],'#803060'),([(-34,-0.1),(-33.3,0.4),(-33.9,0.4)],'#a0b0d0'),([(-38.5,-2.5)],'#70a0a0'),([(-37.7,-3.1)],'#007a70'),([(-37.6,-1.6),(-37.4,-1.7),(-37.7,-2.7)],'#00f0c0'),([(-36.7,-2.1),(-36.3,-1.8)],'#005060'),([(-35.4,-1.5)],'#90a8c0'),([(-35.2,-2.2)],'#607030'),([(-34.9,-1.2),(-34.8,-1.7),(-34.1,-2.7)],'#803868'),([(-23.4,-0.1),(-22.8,-0.4),(-22,-0.3)],'#c84800'),([(-18.9,-1),(-18.2,-0.9)],'#ffb830'),([(-18.2,-1.3)],'#ffc8e0'),([(-17.3,-0.8)],'#006a80'),([(-16.8,1)],'#ffc0e0'),([(-15.5,0.3),(-15,-0.6)],'#b8b8f8'),([(-15.4,0.3)],'#b8f870'),([(-14.6,-1.9)],'#b8b080'),([(-13.2,3.6),(-12.6,3.3),(-12.5,2.9)],'#a00020'),([(-11.7,2.5)],'#0878d0'),([(-13,1.5),(-12.2,1.6)],'#a0a8ff'),([(-9.3,2.3)],'#ffe880'),([(-10,1.9),(-10.1,0.3),(-8.3,1.3)],'#a8a050'),([(-9.5,0.4)],'#90d890'),([(-12.5,-0.8),(-11.1,-1)],'#004830'),([(-11.2,-1.4)],'#5a1810'),([(-8.9,-1.5),(-10,-1.9),(-9.6,-2.5),(-10.1,-3)],'#5a0808'),([(-13,-2.4),(-11.8,-3)],'#0878d0'),([(-11.6,-3.7)],'#f00000'),([(-17.6,-2.5),(-17,-4)],'#6090f0'),([(-16.3,-3.6)],'#305010'),([(-16.3,-5),(-14.7,-3.9),(-15.6,-5.7)],'#807850'),([(-13.5,-4.7),(-12.9,-5.2)],'#b0e8c0'),([(-14,-6.1)],'#7030d0'),([(-13,-6.5)],'#00a8c0'),([(-11.1,-6)],'#b8e8b8'),([(-11.8,-6.9)],'#206880'),([(-11.7,-7.7)],'#506090'),([(-19.7,-3.9)],'#006080'),([(-20.5,-4.6),(-20.2,-4.3)],'#4000c0'),([(-21.6,-5.5),(-20.9,-5.7),(-20.4,-5.4),(-21.1,-6.1)],'#c070d8'),([(-17.9,-4.9)],'#204000'),([(-24.2,-4.3)],'#0000e0'),([(-24.8,-2.9),(-24.6,-2.8)],'#604000'),([(-23.8,-2.1)],'#806020'),([(-29.7,-5.5),(-29.8,-5.2)],'#a8b840'),([(-29.6,-6.5),(-28.9,-6.4),(-28.8,-7)],'#405000'),([(-34.5,-6.8)],'#8a3060'),([(-33.6,-8),(-32.9,-8.4)],'#a03000'),([(-35.7,-9.5),(-35.1,-9.3)],'#a8c090'),([(-33.2,-9.8)],'#b8c040'),([(-32.6,-9.8)],'#20a020'),([(-34.1,-10.3),(-33.7,-10.7),(-35.6,-10.8),(-34.8,-11.3)],'#603860'),([(-31.4,-11.1)],'#a0b870'),([(-35.9,-11.3),(-36.7,-12.1),(-36.8,-12.6)],'#9090d0'),([(-35.7,-13.2),(-35.2,-13.8),(-35.3,-14.3)],'#7860e0'),([(-37.5,-13.8),(-37.1,-14)],'#e098f8'),([(-29.6,-12.1)],'#506878'),([(-29.7,-13.8),(-29.5,-14.1)],'#90e0d8'),([(-29.2,-15.3)],'#c8e8f0'),([(-29.2,-16.2)],'#90a0f0'),([(-26.6,-11.3),(-26.1,-11.3),(-26.9,-12.5)],'#d86048'),([(-27.8,-13.2)],'#506878'),([(-26,-13.7)],'#e07000'),([(-24.8,-13.3)],'#204000'),([(-24,-9.2),(-23.2,-9.1),(-22.5,-9.2)],'#607890'),([(-23.9,-8.8)],'#ffc0e0'),([(-19.6,-8.3),(-19.2,-8.1)],'#f0b0d8'),([(-17.4,-8.3)],'#5090f8'),([(-16.9,-6.6),(-16,-6.4),(-15.2,-5.1),(-15.2,-5.9)],'#c83050'),([(-16.5,-7.4)],'#b89050'),([(-15.2,-8)],'#fff080'),([(-14.4,-7.5)],'#ffc070'),([(-16.1,-8.9)],'#a880c8'),([(-15.3,-9.3),(-14.4,-9.1),(-15.7,-10.2)],'#b00070'),([(-14.7,-10.2),(-14.5,-10.7)],'#c0a050'),([(-13.5,-9.6)],'#5070a0'),([(-12.4,-8.6)],'#a880c8'),([(-11.5,-8.9),(-11,-9.2)],'#705070'),([(-12.1,-10.6)],'#b090d0'),([(-10,-7),(-9.9,-7.8),(-9.3,-8.4)],'#00b070'),([(-9.3,-6.6)],'#5070f0'),([(-8.8,-7.7),(-8.9,-9.1)],'#609098'),([(-8.7,-9.4),(-8.8,-10.7)],'#7050d0'),([(-10.3,-10.8)],'#00c070'),([(-7.5,-9.5),(-6.8,-9.3)],'#90f8c0'),([(-6.7,-9.1),(-6.5,-9.5)],'#a0f090'),([(-6.3,-8.5),(-5.7,-9.1),(-5.4,-8.2)],'#503038'),([(-5.7,-10.3)],'#6040b0'),([(-6.9,-6.4),(-6.7,-5.2)],'#a03000'),([(-6.2,-3.4)],'#ffa020'),([(-6.2,-4.2),(-5.7,-4.7),(-9.2,-4.5)],'#a03890'),([(-8.2,-3.2),(-7.9,-3.7),(-8.4,-4.3),(-7.9,-4.6)],'#80b8d8'),([(-8.7,-2.8)],'#8030f0'),([(-3.1,-3),(-2.8,-3.4),(-3,-4.4),(-2.5,-4.6)],'#600050'),([(-4,-5.6)],'#8040f8'),([(-3.4,-6.4)],'#506890'),([(-2.5,-5.6),(-2.5,-6.5),(-1.8,-5.6)],'#008880'),([(-0.2,-5.8),(0.2,-6),(0.4,-6.7)],'#3a2800'),([(-1.6,-7.4),(-1.5,-8.1)],'#90c888'),([(0.7,-7.8),(1.2,-7.6),(1.1,-8.4)],'#008088'),([(0,-8.2)],'#a87060'),([(-0.2,-9.7),(-2.4,-10.5)],'#c0c098'),([(1.6,-8.3),(1.1,-9.8),(1.8,-9.2),(2.5,-10.3)],'#70b050'),([(-0.4,-11.7),(-0.7,-12.8)],'#6000b0'),([(-6.8,-12.3),(-6.3,-13.1),(-7.5,-13.7)],'#a0c8ff'),([(-5.1,-13.5),(-5.9,-14.4)],'#e878a0'),([(-7.4,-15.7)],'#a8c8ff'),([(-4.6,-15.9)],'#7050c0'),([(-1.2,-15.8)],'#f0b8b8'),([(-7,-17.5)],'#a090c0'),([(-6.9,-18.7)],'#60b8f0'),([(-5.3,-18.2)],'#a0c8e0'),([(-4.8,-18.7),(-4.4,-19.2)],'#ffd0e8'),([(-1.6,-19.5),(-1.4,-19.4)],'#7a0000'),([(-4.7,-21.4),(-4.3,-22.4)],'#a8c0d8'),([(-7.5,-20.8)],'#d8c0e8'),([(-3.2,-22.8)],'#ffa030'),([(-1.7,-22.8)],'#604870'),([(2,-20.5)],'#ff80d0'),([(3.2,-19.7)],'#ff90d0'),([(3.7,-20),(3.3,-21)],'#304828'),([(8.5,-24.4)],'#e0e8ff'),([(1,-26.7),(1,-27.2),(1.1,-27.7)],'#a000c0'),([(-4.9,-26.7),(-4.6,-27.3),(-4.9,-28.1)],'#ff98b8'),([(-6,-22.9),(-5.7,-23.1),(-5.9,-23.8)],'#f00070'),([(-3,-29.2),(-2.5,-30.1),(-2.4,-30.8)],'#402008'),([(-2.7,-31.5),(-2.9,-32.3),(-3.1,-33)],'#40f0ff'),([(-5.8,-31.7),(-5.8,-32.1)],'#c0f8f8'),([(-8.3,-31.8)],'#400000'),([(-6.9,-34.8)],'#e000d0'),([(-7.7,-38),(-7.4,-38),(-7.1,-38)],'#90e0ff'),([(-10.4,-29.9),(-10.2,-29.6)],'#802838'),([(-9.7,-33.9),(-10.6,-33.5),(-10.4,-35.3)],'#909a00'),([(-9.3,-34.6)],'#8030a0'),([(-8.7,-34),(-8.8,-34.8)],'#b8e0b8'),([(-12.5,-32.2),(-11.6,-31.4)],'#ff8040'),([(-13.3,-34.1),(-13.1,-34.6)],'#609898'),([(-16.3,-31.9),(-16.5,-32.7),(-16,-33.2)],'#f0f8c8'),([(-19.3,-31.4),(-19.1,-31.9),(-19.6,-32)],'#208060'),([(-21.6,-32.8),(-21,-32.4),(-20.6,-32.3),(-21.2,-34.2)],'#307840'),([(-19.5,-33.2),(-18.9,-32.9),(-18.2,-32.9)],'#6060b0'),([(-22.5,-34.1),(-22.1,-34.4),(-22.7,-34.7)],'#e05878'),([(-23.6,-35.5),(-23.3,-35.4)],'#605030'),([(-16.7,-37.3),(-16.1,-37.3)],'#80d8b0'),([(-15.3,-36.8)],'#d0f8e8'),([(-11.9,-37.4),(-11.1,-38.1),(-11.6,-38.9)],'#a858c8'),([(-12.5,-38.8),(-12.4,-40),(-11.9,-40),(-10.5,-39.9)],'#a83830'),([(-11.5,-40.6)],'#70e890'),([(-18.7,-40.7),(-18.1,-40.9),(-17.7,-41.1)],'#8a50b0'),([(-16.7,-40.6)],'#a83820'),([(-15.1,-41.4),(-14.5,-41)],'#c000a0'),([(-9.5,-41.3)],'#807090'),([(-10.6,-42.6),(-9.3,-44)],'#ffff00'),([(-10.2,-43.5),(-9.6,-43.6),(-8.9,-43),(-9.9,-44.8)],'#6800e0'),
([(-37.4,-20.5)],'#504098'),([(-36.1,-20.6),(-36,-21.4)],'#0050b8'),([(-35.9,-19.8),(-35,-20.6)],'#c0e8f0'),([(-34.5,-20.8),(-33.8,-19.9),(-33.3,-19.6)],'#604020'),([(-32.6,-19.8),(-32,-19.1),(-31.5,-19.9)],'#90a0e0'),([(-32.9,-21.3)],'#405070'),([(-30.7,-18.4)],'#500028'),([(-29.5,-18.8)],'#600070'),([(-30.3,-17.8)],'#d0e8f0'),([(-29.7,-19.3),(-30.5,-20.8),(-29.8,-21.3),(-28.5,-20.8)],'#60b080'),([(-28.4,-18.5)],'#a0c8a0'),([(-30.7,-20.7)],'#c07880'),([(-27.4,-20.4)],'#a0a8e0'),([(-28.9,-21.5)],'#c07070'),([(-28,-21.9)],'#c85048'),([(-27.7,-22.8),(-28.4,-23.5)],'#305080'),([(-32.6,-23),(-31.6,-22.2),(-31.4,-23.1)],'#ff2050'),([(-30.8,-22.1),(-30.4,-22.9)],'#c87878'),([(-29.1,-23.5),(-31.9,-23.5),(-32.4,-24.7),(-31.9,-24.7)],'#50b0b0'),([(-30.5,-24.3)],'#a84860'),([(-30,-25.3),(-29.9,-26.2),(-29.6,-27.1)],'#807058'),([(-30.5,-25.9)],'#c87850'),([(-30.9,-27.9)],'#c888c0'),([(-29.4,-26.9)],'#5090d0'),([(-28.8,-25.6),(-28.8,-27.1),(-28.5,-28.1)],'#709080'),([(-27.8,-27.1)],'#d02860'),([(-28,-24.8),(-27,-23.8),(-27.1,-24.4)],'#c8a078'),([(-31.6,-29.9),(-31.8,-30.2)],'#c000f0'),([(-26,-26.2),(-25.8,-26.2)],'#404860'),([(-26.4,-21.6)],'#60b088'),([(-26.1,-19.2)],'#ff2050'),([(-25.1,-19.3),(-25.8,-20.6)],'#600050'),([(-24.8,-19.6),(-24.5,-21.3),(-24.2,-22.8)],'#c09000'),([(-24.8,-22.5)],'#305078'),([(-26,-23)],'#600070'),([(-25.9,-24.2)],'#00c000'),([(-25.5,-23.9)],'#709898'),([(-25.5,-24.7)],'#405068'),([(-23.8,-21.4)],'#00d000'),([(-23.2,-20)],'#a03850'),([(-23.6,-25.4),(-23.5,-25.9)],'#00c000'),([(-23.4,-26.7)],'#b088e0'),([(-23,-24.4)],'#50a0f0'),([(-22.9,-23.3),(-22.5,-23.8),(-21.9,-23.4),(-21.7,-22.9)],'#e0d0a0'),([(-22.4,-21.8),(-22,-21.6)],'#b03848'),([(-22.4,-25.5),(-22,-24.9),(-21,-25.9),(-20.9,-26.2)],'#a84800'),([(-22.7,-27.4),(-22.2,-27.6),(-21.8,-28.4)],'#500820'),([(-20.3,-28.1)],'#00c000'),([(-20.9,-24.2)],'#a0a0c8'),([(-25.3,-29.9),(-24.8,-29.4),(-24.4,-29.9)],'#703820'),
([(-21.7,-15.2),(-21.6,-16.7)],'#a05070'),([(-21.6,-18),(-21.2,-19.5)],'#b00050'),([(-20.3,-19.6)],'#9a1000'),([(-20.9,-14.9),(-20.5,-14.9)],'#c00050'),([(-20.5,-13.5),(-19.8,-13.2),(-19.5,-13.9),(-18.8,-13.2),(-18,-13)],'#8000c8'),([(-18.8,-14),(-18.1,-14),(-17.5,-14.3)],'#f070f0'),([(-18.6,-11.7),(-18.1,-11.8),(-18.9,-12.9)],'#ff9868'),([(-21,-11),(-19.2,-11)],'#e00000'),([(-16.2,-11.1)],'#c09050'),([(-13.5,-11.8)],'#400010'),([(-15.2,-12),(-15.2,-12.8),(-14.1,-12.5)],'#d0b050'),([(-14.5,-13.1)],'#700040'),([(-15.6,-14.4),(-15.1,-15.3),(-15.1,-15.8)],'#a8c0a0'),([(-14.2,-15),(-13.3,-14.6),(-13.7,-16.3)],'#008000'),([(-13,-16.2),(-12.4,-12.7)],'#6060f0'),([(-15.6,-16.3)],'#a08070'),([(-10.9,-12.7),(-10.4,-12.7)],'#3090f0'),([(-11.5,-12.2)],'#c09050'),([(-11.4,-13.6),(-10.7,-14.6),(-11.2,-15.4),(-10.2,-15.7)],'#b08898'),([(-8.5,-15.9),(-11.1,-16.8),(-9.8,-17.1)],'#d89040'),([(-9.5,-17.1)],'#0000e0'),([(-12,-17),(-11.7,-18),(-10.9,-18)],'#00e000'),([(-9.6,-18.7),(-9.9,-19.2)],'#70a868'),([(-12.5,-19.2)],'#406020'),([(-15.2,-18.3)],'#206040'),([(-17.3,-17.2),(-17.4,-18.7),(-18.7,-19.5)],'#306030'),([(-16,-17.9),(-15.8,-18.9),(-15,-19.2),(-15.7,-20.3)],'#c8e040'),([(-16.5,-17.9)],'#600060'),([(-16.6,-19.2),(-13.8,-18.6)],'#006850'),([(-19.8,-17.2)],'#b00060'),([(-18.8,-17.8),(-19.5,-18.2)],'#d080c0'),([(-18.5,-15.6)],'#c08050'),([(-18.8,-16.4)],'#c89000'),([(-17,-16.4)],'#a06070'),([(-13.8,-20.2)],'#00c060'),([(-13.5,-21)],'#00b080'),([(-19.3,-20.4)],'#60a8f0'),([(-18.1,-20.7)],'#d0c070'),([(-17.8,-21.5)],'#00a080'),([(-16.5,-21)],'#80c0f0'),([(-16.5,-21.8),(-18.1,-22.9),(-19.6,-22.3),(-20.8,-22.5)],'#00c4f0'),([(-15.9,-22.7)],'#40a030'),([(-15.2,-22)],'#d0c0e8'),([(-14,-22.5)],'#ff5000'),([(-13.7,-23.4)],'#ffb070'),([(-14.7,-23.8)],'#105870'),([(-12.4,-22),(-11.6,-22.9)],'#a03080'),([(-12.3,-23.1)],'#e05000'),([(-12.3,-24.4)],'#900040'),([(-11.5,-23.6),(-11.1,-23.9)],'#ffc080'),([(-10.7,-23.3)],'#00d0d0'),([(-12.3,-20.1),(-11.5,-20.1),(-11.1,-20.6)],'#c88060'),([(-10.3,-21.4)],'#b06050'),([(-9.1,-20.4)],'#106878'),([(-9.4,-23),(-9.3,-24.4),(-9.5,-24)],'#5090b0'),([(-19.1,-23.3),(-18.8,-24)],'#a090b0'),([(-18.5,-24.8)],'#f0b0f0'),([(-17.3,-24)],'#f8c8f0'),([(-16.8,-24.4),(-16.4,-25),(-15.7,-24)],'#b070e0'),([(-14.8,-24.4),(-14,-24.4),(-13.6,-24.4)],'#b02868'),([(-12.2,-25.9),(-11.8,-25.9)],'#00d0d8'),([(-18.1,-26.5),(-17.4,-26.7)],'#307868'),([(-15,-26.2),(-15.4,-27.4)],'#40a030'),([(-14.6,-27),(-18.4,-28.7),(-17.3,-28.5),(-14.9,-29),(-14.6,-29.6),(-14,-30.7)],'#806000'),([(-13.4,-27.7),(-15.9,-29),(-13.7,-29.4)],'#f08050'),([(-11.5,-28)],'#b00050'),([(-9.3,-26.9),(-10,-28)],'#906060'),([(-8.3,-27.7),(-8.6,-28.9),(-7.6,-28.7)],'#ff6090'),([(-19.3,-29.9)],'#a890e8'),([(-18.1,-29.9),(-17.4,-30),(-16.9,-30.3)],'#e060f0'),([(-15.7,-29.9),(-15,-30.1)],'#b0a0e8'),
]

W, H = 2195, 1812
DOT = 112
TICK = 19
fig = plt.figure(figsize=(W / 100, H / 100), dpi=100)


def place(l, t, r, b):
    return fig.add_axes([l / W, 1 - b / H, (r - l) / W, (b - t) / H])


def finish(ax, xlim, ylim, xticks, yticks):
    ax.set_xlim(*xlim)
    ax.set_ylim(*ylim)
    ax.set_xticks(xticks)
    ax.set_yticks(yticks)
    ax.set_xlabel("x", fontsize=TICK, fontweight="bold", labelpad=1)
    ax.set_ylabel("y", fontsize=TICK, fontweight="bold", labelpad=2)
    ax.tick_params(axis="both", labelsize=TICK, length=3.5, width=1, bottom=True, left=True, pad=2.5, color="black")
    for lab in ax.get_xticklabels() + ax.get_yticklabels():
        lab.set_fontweight("bold")
    for s in ax.spines.values():
        s.set_color("#333333")
        s.set_linewidth(1)


def four_class(ax, tail, head, ctm_tail, ctm_head):
    frames = []
    for lab, pts in ((LABELS[3], ctm_head), (LABELS[2], ctm_tail), (LABELS[1], head), (LABELS[0], tail)):
        f = pd.DataFrame(pts, columns=["x", "y"])
        f["kind"] = lab
        frames.append(f)
    df = pd.concat(frames, ignore_index=True)
    sns.scatterplot(data=df, x="x", y="y", hue="kind", hue_order=LABELS,
                    palette=sns.color_palette("hls", 4), s=DOT, ax=ax)
    h, l = ax.get_legend_handles_labels()
    ax.legend(h, l, ncol=2, loc="lower left", bbox_to_anchor=(0, 1.02, 1, 0.1), mode="expand",
              borderaxespad=0, prop={"weight": "bold", "size": 17}, markerscale=0.55,
              handletextpad=2.05, labelspacing=0.0, columnspacing=0.0, handlelength=2.4,
              borderpad=0.4, frameon=True)


def by_group(ax, groups):
    xs = [p[0] for pts, _ in groups for p in pts]
    ys = [p[1] for pts, _ in groups for p in pts]
    cs = [c for pts, c in groups for _ in pts]
    sns.scatterplot(x=xs, y=ys, hue=list(range(len(xs))), palette=cs, s=DOT, legend=False, ax=ax)


ax_a = place(257.6, 97.5, 1070, 590)
four_class(ax_a, a_tail, a_head, a_ctm_tail, a_ctm_head)
finish(ax_a, (-59.8, 56.2), (-43.4, 44.3), [-40, -20, 0, 20, 40], list(range(-40, 41, 10)))

ax_b = place(1199, 97.5, 2011, 590)
four_class(ax_b, b_tail, b_head, b_ctm_tail, b_ctm_head)
finish(ax_b, (-42.6, 48.9), (-49, 42.2), [-40, -20, 0, 20, 40], [-40, -20, 0, 20, 40])

ax_c = place(257.6, 788, 1070, 1357.5)
by_group(ax_c, c_groups)
finish(ax_c, (-7.05, 53.65), (-30.4, 43.8), list(range(0, 51, 10)), list(range(-30, 41, 10)))

ax_d = place(1199.7, 788, 2007, 1357.5)
by_group(ax_d, d_groups)
finish(ax_d, (-40.8, 10.8), (-47.6, 14.4), list(range(-40, 11, 10)), list(range(-40, 11, 10)))

SERIF = "Liberation Serif"
SUB = 30.5
CAP = 33.2
for cx, cy, s in ((612.5, 711, "(a) \u2009Law Articles"), (1554, 711, "(b) \u2009Charges"),
                  (612.5, 1478, "(c) \u2009Law Articles"), (1554, 1478, "(d) \u2009Charges")):
    fig.text(cx / W, 1 - cy / H, s, family=SERIF, fontsize=SUB, ha="center", va="center", color="black")

CAPTION = ["Figure 6: Visualization of the representations of some randomly sampled cases with high- and low-frequency",
           "law articles (a) and charges (b) on CAIL-small by MPBFN and MPBFN-CTM. The dots in (c) and (d) are fine-",
           "grained visualization of the representations obtained by MPBFN-CTM on each law article and charge, where the",
           "representations with the same law article or charge are clearly grouped."]
LINE_Y = [1595, 1650, 1704, 1759]
LINE_END = [2142, 2148, 2141, None]
renderer = fig.canvas.get_renderer()
for line, ly, end in zip(CAPTION, LINE_Y, LINE_END):
    words = line.split(" ")
    items = [fig.text(0, 1 - ly / H, w, family=SERIF, fontsize=CAP, ha="left", va="center", color="black") for w in words]
    widths = [t.get_window_extent(renderer).width for t in items]
    gap = (end - 25 - sum(widths)) / (len(words) - 1) if end else CAP * 100 / 72 * 0.25
    x = 25.0
    for t, w in zip(items, widths):
        t.set_x(x / W)
        x += w + gap

fig.savefig("out.png", dpi=100, facecolor="white")
